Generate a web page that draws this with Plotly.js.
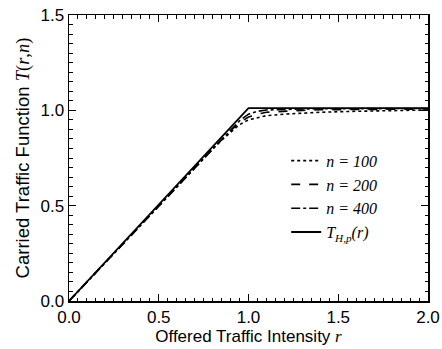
<!DOCTYPE html>
<html>
<head>
<meta charset="utf-8">
<script src="https://cdn.plot.ly/plotly-3.0.1.min.js"></script>
<style>html,body{margin:0;padding:0;background:#fff;}#chart{width:442px;height:349px;}</style>
</head>
<body>
<div id="chart"></div>
<script>
// Offered traffic intensity r
const r = [0, 0.5, 0.8, 0.85, 0.9, 0.95, 1.0, 1.05, 1.1, 1.2, 1.3, 1.4, 1.6, 1.8, 2.0];
const n100 = [0, 0.5, 0.797, 0.843, 0.885, 0.925, 0.95, 0.963, 0.972, 0.98, 0.985, 0.99, 0.995, 0.999, 1.002];
const n200 = [0, 0.5, 0.8, 0.847, 0.893, 0.935, 0.965, 0.98, 0.99, 0.997, 1.0, 1.003, 1.005, 1.006, 1.007];
const n400 = [0, 0.5, 0.8, 0.849, 0.898, 0.945, 0.98, 0.995, 1.002, 1.006, 1.007, 1.008, 1.009, 1.01, 1.01];
// Limit function T_H,p(r)
const rLimit = [0, 1.0, 2.0];
const tLimit = [0, 1.012, 1.012];

const names = ['<i>n</i> = 100', '<i>n</i> = 200', '<i>n</i> = 400', '<i>T</i><sub><i>H,p</i></sub>(<i>r</i>)'];

const traces = [
  {x: r, y: n100, name: names[0], mode: 'lines', line: {color: '#000', width: 1.6, dash: 'dot'}},
  {x: r, y: n200, name: names[1], mode: 'lines', line: {color: '#000', width: 1.6, dash: 'dash'}},
  {x: r, y: n400, name: names[2], mode: 'lines', line: {color: '#000', width: 1.6, dash: 'dashdot'}},
  {x: rLimit, y: tLimit, name: names[3], mode: 'lines', line: {color: '#000', width: 1.8}}
];

const axisCommon = {
  showgrid: false, zeroline: false,
  showline: true, linecolor: '#000', linewidth: 1.5, mirror: 'allticks',
  ticks: 'inside', ticklen: 7, tickwidth: 1.2, tickcolor: '#000',
  dtick: 0.5, tickformat: '.1f',
  minor: {dtick: 0.05, ticks: 'inside', ticklen: 3.5, tickwidth: 1, tickcolor: '#000'},
  tickfont: {family: 'Liberation Sans, Arial, sans-serif', size: 17, color: '#000'}
};

const layout = {
  width: 442, height: 349,
  margin: {l: 69, r: 14, t: 15, b: 48},
  paper_bgcolor: '#fff', plot_bgcolor: '#fff',
  showlegend: true,
  legend: {
    x: 0.605, y: 0.55, xanchor: 'left', yanchor: 'top',
    bgcolor: 'rgba(0,0,0,0)', borderwidth: 0,
    font: {family: 'Liberation Serif, Times New Roman, serif', size: 16, color: '#000', style: 'italic'},
    itemwidth: 30
  },
  xaxis: Object.assign({}, axisCommon, {
    range: [0, 2.0],
    title: {text: 'Offered Traffic Intensity <i><span style="font-family:Liberation Serif">r</span></i>', font: {family: 'Liberation Sans, Arial, sans-serif', size: 17, color: '#000'}, standoff: 2}
  }),
  yaxis: Object.assign({}, axisCommon, {
    range: [0, 1.5],
    title: {text: 'Carried Traffic Function <span style="font-family:Liberation Serif"><i>T</i>(<i>r</i>,<i>n</i>)</span>', font: {family: 'Liberation Sans, Arial, sans-serif', size: 18.5, color: '#000'}, standoff: 6}
  })
};

Plotly.newPlot('chart', traces, layout, {displayModeBar: false, staticPlot: true});
</script>
</body>
</html>
